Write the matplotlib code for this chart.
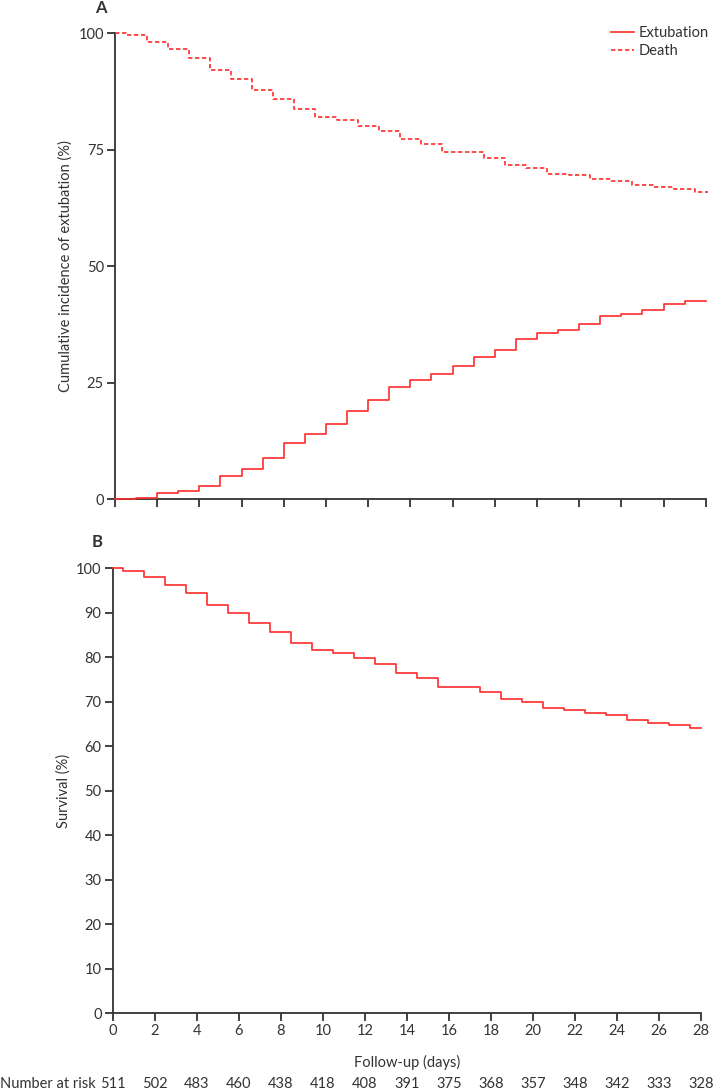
import matplotlib
matplotlib.use("Agg")
import matplotlib.pyplot as plt
import matplotlib.transforms as mtransforms
from matplotlib.lines import Line2D

plt.rcParams['font.family'] = ['Lato', 'DejaVu Sans']
plt.rcParams['font.size'] = 10.5

# panel A - extubation (steps at whole days)
ext_days = list(range(0, 28))
ext_pct = [0, 0.3, 1.35, 1.8, 2.9, 5.0, 6.4, 8.9, 12.1, 14.1, 16.2, 18.9, 21.3, 24.0,
           25.5, 26.9, 28.5, 30.5, 32.1, 34.5, 35.6, 36.3, 37.6, 39.3, 39.8, 40.7, 42.0, 42.5]

# panel A - death (steps at half days)
death_days = [0, 0.5, 1.5, 2.5, 3.5, 4.5, 5.5, 6.5, 7.5, 8.5, 9.5, 10.5, 11.5, 12.5, 13.5,
              14.5, 15.5, 17.5, 18.5, 19.5, 20.5, 21.5, 22.5, 23.5, 24.5, 25.5, 26.5, 27.5]
death_pct = [100, 99.6, 98.1, 96.6, 94.7, 92.1, 90.2, 87.9, 85.9, 83.7, 82.0, 81.3, 80.1, 79.0,
             77.3, 76.2, 74.5, 73.3, 71.8, 71.1, 69.9, 69.5, 68.7, 68.3, 67.4, 67.0, 66.6, 65.9]

# panel B - survival
surv_days = [0, 0.5, 1.5, 2.5, 3.5, 4.5, 5.5, 6.5, 7.5, 8.5, 9.5, 10.5, 11.5, 12.5, 13.5,
             14.5, 15.5, 17.5, 18.5, 19.5, 20.5, 21.5, 22.5, 23.5, 24.5, 25.5, 26.5, 27.5]
surv_pct = [100, 99.5, 98.1, 96.3, 94.5, 91.8, 89.9, 87.6, 85.6, 83.3, 81.7, 81.0, 79.9, 78.4,
            76.5, 75.3, 73.4, 72.1, 70.6, 69.9, 68.5, 68.2, 67.4, 67.0, 65.8, 65.2, 64.8, 64.1]

risk_days = list(range(0, 29, 2))
at_risk = [511, 502, 483, 460, 438, 418, 408, 391, 375, 368, 357, 348, 342, 333, 328]

red = '#ff2b2b'
dark = '#333333'
W, H = 713, 1092

fig = plt.figure(figsize=(W / 100, H / 100), dpi=100)

def px_axes(x0, x1, ytop, ybot):
    return fig.add_axes([x0 / W, 1 - ybot / H, (x1 - x0) / W, (ybot - ytop) / H])

def style(ax, yticks):
    for s in ['top', 'right']:
        ax.spines[s].set_visible(False)
    for s in ['left', 'bottom']:
        ax.spines[s].set_color(dark)
        ax.spines[s].set_linewidth(1.3)
    ax.set_xlim(0, 28)
    ax.set_ylim(0, 100)
    ax.set_xticks(risk_days)
    ax.set_yticks(yticks)
    ax.tick_params(direction='out', length=6, width=1.3, color=dark, labelcolor=dark,
                   labelsize=10.5, pad=2)

# ---- A ----
axA = px_axes(115, 705.7, 33.3, 499.3)
style(axA, [0, 25, 50, 75, 100])
axA.set_xticklabels([])
axA.step(ext_days + [28], ext_pct + [ext_pct[-1]], where='post', color=red, lw=1.2,
         clip_on=False, zorder=4)
axA.step(death_days + [28.1], death_pct + [death_pct[-1]], where='post', color=red, lw=1.2,
         linestyle=(0, (2.6, 1.6)), clip_on=False, zorder=4)
axA.set_ylabel('Cumulative incidence of extubation (%)', color=dark, fontsize=10.5, labelpad=4)
fig.text(101 / W, 1 - 8 / H, 'A', fontsize=12, fontweight='bold', color=dark, ha='center', va='center')

handles = [Line2D([], [], color=red, lw=1.2),
           Line2D([], [], color=red, lw=1.2, linestyle=(0, (2.6, 1.6)))]
fig.legend(handles, ['Extubation', 'Death'], loc='upper left', bbox_to_anchor=(604 / W, 1 - 19 / H),
           frameon=False, fontsize=10.5, handlelength=1.55, handletextpad=0.3, labelspacing=0.25,
           borderpad=0, labelcolor=dark)

# ---- B ----
axB = px_axes(112.7, 701, 568.3, 1013.3)
style(axB, list(range(0, 101, 10)))
axB.step(surv_days + [28], surv_pct + [surv_pct[-1]], where='post', color=red, lw=1.2,
         clip_on=False, zorder=4)
axB.set_ylabel('Survival (%)', color=dark, fontsize=10.5, labelpad=4)
axB.set_xlabel('Follow-up (days)', color=dark, fontsize=10.5, labelpad=12)
fig.text(97 / W, 1 - 542 / H, 'B', fontsize=12, fontweight='bold', color=dark, ha='center', va='center')

trans = mtransforms.blended_transform_factory(axB.transData, fig.transFigure)
for d, n in zip(risk_days, at_risk):
    axB.text(d, 1 - 1084 / H, str(n), transform=trans, ha='center', va='center',
             fontsize=10.5, color=dark)
fig.text(0, 1 - 1084 / H, 'Number at risk', ha='left', va='center', fontsize=10.5, color=dark)

fig.savefig('out.png', dpi=100)
